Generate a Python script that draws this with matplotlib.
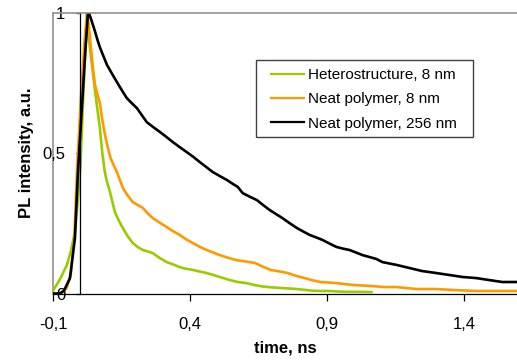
import matplotlib
matplotlib.use("Agg")
import matplotlib.pyplot as plt
from matplotlib.lines import Line2D
from matplotlib.patches import Rectangle

plt.rcParams['font.family'] = ['Liberation Sans', 'DejaVu Sans']

# ---- data ----
hetero_t = [-0.1, -0.075, -0.05, -0.035, -0.02, -0.008, 0.0, 0.009, 0.02, 0.024,
            0.032, 0.042, 0.051, 0.060, 0.071, 0.080, 0.089, 0.098, 0.108, 0.117,
            0.126, 0.140, 0.155, 0.172, 0.191, 0.210, 0.228, 0.246, 0.264,
            0.290, 0.315, 0.338, 0.362, 0.386, 0.410, 0.436, 0.461, 0.485, 0.508,
            0.545, 0.574, 0.606, 0.636, 0.665, 0.696, 0.727, 0.758, 0.789, 0.818,
            0.847, 0.878, 0.909, 0.940, 0.971, 1.015, 1.062]
hetero_i = [0.01, 0.05, 0.10, 0.15, 0.22, 0.35, 0.45, 0.67, 0.91, 1.0,
            0.90, 0.815, 0.740, 0.672, 0.590, 0.500, 0.433, 0.395, 0.362, 0.325,
            0.290, 0.260, 0.233, 0.205, 0.180, 0.165, 0.155, 0.150, 0.144,
            0.126, 0.112, 0.104, 0.094, 0.088, 0.084, 0.078, 0.073, 0.066, 0.059,
            0.048, 0.041, 0.037, 0.030, 0.025, 0.022, 0.020, 0.018, 0.016, 0.013,
            0.010, 0.009, 0.009, 0.007, 0.006, 0.006, 0.005]

neat8_t = [-0.1, -0.07, -0.05, -0.035, -0.022, -0.012, 0.002, 0.015, 0.024,
           0.030, 0.035, 0.044, 0.053, 0.062, 0.071, 0.078, 0.085, 0.092, 0.100,
           0.110, 0.121, 0.133, 0.144, 0.155, 0.172, 0.191, 0.210, 0.228, 0.246,
           0.264, 0.290, 0.315, 0.338, 0.362, 0.386, 0.410, 0.436, 0.461, 0.485,
           0.508, 0.540, 0.574, 0.605, 0.636, 0.665, 0.694, 0.725, 0.756, 0.787,
           0.818, 0.847, 0.876, 0.907, 0.938, 0.969, 1.000, 1.058, 1.109, 1.153,
           1.226, 1.298, 1.371, 1.444, 1.517, 1.590]
neat8_i = [0.0, 0.0, 0.02, 0.07, 0.20, 0.45, 0.70, 0.90, 1.0,
           0.96, 0.911, 0.82, 0.745, 0.71, 0.68, 0.63, 0.59, 0.555, 0.52,
           0.483, 0.458, 0.433, 0.405, 0.376, 0.350, 0.326, 0.315, 0.305, 0.285,
           0.269, 0.252, 0.237, 0.222, 0.209, 0.193, 0.180, 0.166, 0.155, 0.146,
           0.137, 0.127, 0.118, 0.114, 0.109, 0.096, 0.084, 0.079, 0.073, 0.063,
           0.055, 0.047, 0.041, 0.039, 0.037, 0.033, 0.030, 0.027, 0.023, 0.023,
           0.016, 0.016, 0.012, 0.009, 0.009, 0.009]

neat256_t = [-0.1, -0.075, -0.06, -0.038, -0.020, -0.009, 0.006, 0.017, 0.027,
             0.031, 0.040, 0.053, 0.062, 0.071, 0.084, 0.097, 0.115, 0.133, 0.151,
             0.169, 0.188, 0.206, 0.224, 0.242, 0.266, 0.290, 0.314, 0.337, 0.362,
             0.388, 0.412, 0.435, 0.459, 0.483, 0.508, 0.534, 0.554, 0.574, 0.592,
             0.618, 0.644, 0.667, 0.690, 0.714, 0.737, 0.763, 0.789, 0.813, 0.836,
             0.860, 0.883, 0.909, 0.934, 0.958, 0.982, 1.006, 1.029, 1.055, 1.080,
             1.102, 1.153, 1.200, 1.247, 1.298, 1.346, 1.393, 1.444, 1.491, 1.539,
             1.590]
neat256_i = [0.0, 0.0, 0.01, 0.055, 0.198, 0.433, 0.672, 0.850, 0.993,
             1.0, 0.975, 0.935, 0.905, 0.878, 0.846, 0.815, 0.784, 0.754, 0.725,
             0.697, 0.678, 0.661, 0.636, 0.611, 0.593, 0.576, 0.558, 0.540, 0.522,
             0.504, 0.487, 0.469, 0.451, 0.433, 0.419, 0.405, 0.392, 0.380, 0.358,
             0.345, 0.333, 0.315, 0.298, 0.283, 0.269, 0.251, 0.234, 0.221, 0.209,
             0.200, 0.191, 0.178, 0.166, 0.160, 0.155, 0.146, 0.137, 0.130, 0.123,
             0.112, 0.102, 0.091, 0.080, 0.073, 0.066, 0.059, 0.055, 0.048, 0.041,
             0.041]

labels = ["Heterostructure, 8 nm", "Neat polymer, 8 nm", "Neat polymer, 256 nm"]
colors = ["#99CC00", "#FF9900", "#000000"]

xticks = [-0.1, 0.4, 0.9, 1.4]
xticklabels = ["-0,1", "0,4", "0,9", "1,4"]
yticks = [0, 0.5, 1]
yticklabels = ["0", "0,5", "1"]

# ---- figure ----
fig = plt.figure(figsize=(5.17, 3.62), dpi=100)
ax = fig.add_axes([53/517, 1 - 293.5/362, 1 - 53/517, 280.5/362])

series = [(hetero_t, hetero_i), (neat8_t, neat8_i), (neat256_t, neat256_i)]
for (t, i), lab, c in zip(series, labels, colors):
    ax.plot(t, i, color=c, lw=1.9, label=lab, solid_joinstyle='round')

ax.set_xlim(-0.1, 1.593)
ax.set_ylim(0, 1)

ax.spines['left'].set_position(('data', 0))
ax.spines['left'].set_color('black')
ax.spines['left'].set_linewidth(0.9)
ax.spines['bottom'].set_color('black')
ax.spines['bottom'].set_linewidth(0.9)
ax.spines['top'].set_color('#909090')
ax.spines['top'].set_linewidth(1.2)
ax.spines['right'].set_visible(False)
# gray plot-area frame on the left
ax.add_line(Line2D([0, 0], [0, 1], transform=ax.transAxes, color='#909090',
                   lw=1.2, clip_on=False, zorder=0))

ax.set_xticks(xticks)
ax.set_xticklabels(xticklabels)
ax.set_yticks(yticks)
ax.set_yticklabels(yticklabels)
ax.tick_params(axis='x', direction='out', length=5, width=0.9, pad=12,
               labelsize=12, color='black')
ax.tick_params(axis='y', direction='out', length=3, width=0.9, pad=8,
               labelsize=12, color='black')
for lbl in ax.get_yticklabels() + ax.get_xticklabels():
    lbl.set_clip_on(False)

ax.set_xlabel("time, ns", fontsize=12, fontweight='bold', labelpad=6)
ax.set_ylabel("PL intensity, a.u.", fontsize=12, fontweight='bold', labelpad=5.5)

# legend box (Excel style: wide padding)
ax.add_patch(Rectangle((256/517, 1 - 137/362), 217/517, 77/362,
                       transform=fig.transFigure, facecolor='white',
                       edgecolor='#404040', lw=1.0, clip_on=False, zorder=4))
leg = ax.legend(loc='upper left', bbox_to_anchor=(271/517, 1 - 68/362),
                bbox_transform=fig.transFigure, fontsize=11, frameon=False,
                borderaxespad=0, handlelength=2.15, handletextpad=0.3,
                labelspacing=0.68, borderpad=0)
leg.set_zorder(5)
for h in leg.get_lines():
    h.set_linewidth(1.6)

fig.savefig("out.png", dpi=100)
